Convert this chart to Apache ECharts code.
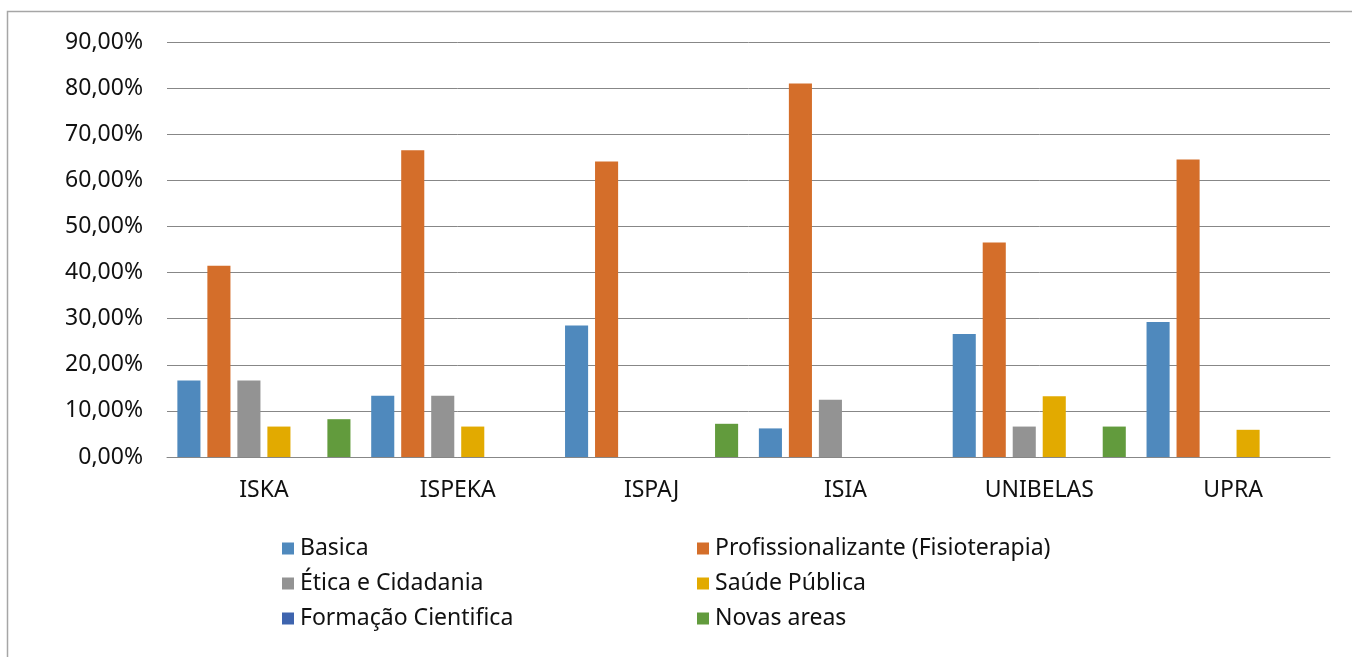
<!DOCTYPE html>
<html>
<head>
<meta charset="utf-8">
<script src="https://cdn.jsdelivr.net/npm/echarts@6/dist/echarts.min.js"></script>
<style>
html,body{margin:0;padding:0;background:#fff;}
#chart{width:1352px;height:657px;}
</style>
</head>
<body>
<div id="chart"></div>
<script>
const categories = ['ISKA', 'ISPEKA', 'ISPAJ', 'ISIA', 'UNIBELAS', 'UPRA'];
const seriesNames = ['Basica', 'Profissionalizante (Fisioterapia)', 'Ética e Cidadania', 'Saúde Pública', 'Formação Cientifica', 'Novas areas'];
const basica = [16.6, 13.3, 28.5, 6.2, 26.7, 29.3];
const profissionalizante = [41.5, 66.5, 64.1, 81.0, 46.5, 64.5];
const etica = [16.6, 13.3, 0, 12.4, 6.6, 0];
const saudePublica = [6.6, 6.6, 0, 0, 13.2, 5.9];
const formacaoCientifica = [0, 0, 0, 0, 0, 0];
const novasAreas = [8.2, 0, 7.2, 0, 6.6, 0];
const yTicks = [0, 10, 20, 30, 40, 50, 60, 70, 80, 90];

const seriesData = [basica, profissionalizante, etica, saudePublica, formacaoCientifica, novasAreas];
const colors = ['#4f89bd', '#d46e2a', '#939393', '#e2aa00', '#3e64ae', '#629b3d'];
const FONT = 'Noto Sans';
const FS = 23;

const chart = echarts.init(document.getElementById('chart'));
const legendCommon = {
  orient: 'vertical',
  itemWidth: 12,
  itemHeight: 12,
  itemGap: 12,
  padding: 0,
  icon: 'rect',
  textStyle: { fontFamily: FONT, fontSize: FS, color: '#111', padding: [0, 0, 0, 1] },
  selectedMode: false
};
chart.setOption({
  animation: false,
  color: colors,
  graphic: [{
    type: 'rect',
    shape: { x: 7.5, y: 11.5, width: 1500, height: 800 },
    style: { fill: 'none', stroke: '#a6a6a6', lineWidth: 1.5 },
    silent: true
  }],
  grid: { left: 167, right: 22, top: 42, bottom: 200, containLabel: false },
  legend: [
    Object.assign({}, legendCommon, { left: 282, top: 537, data: [seriesNames[0], seriesNames[2], seriesNames[4]] }),
    Object.assign({}, legendCommon, { left: 697, top: 537, data: [seriesNames[1], seriesNames[3], seriesNames[5]] })
  ],
  xAxis: {
    type: 'category',
    data: categories,
    axisLine: { lineStyle: { color: '#878787', width: 1 } },
    axisTick: { show: false },
    axisLabel: { fontFamily: FONT, fontSize: FS, color: '#111', margin: 22 }
  },
  yAxis: {
    type: 'value',
    min: yTicks[0],
    max: yTicks[yTicks.length - 1],
    interval: 10,
    axisLine: { show: false },
    axisTick: { show: false },
    splitLine: { lineStyle: { color: '#878787', width: 1 } },
    axisLabel: {
      fontFamily: FONT, fontSize: FS, color: '#111', margin: 24,
      formatter: v => v.toFixed(2).replace('.', ',') + '%'
    }
  },
  series: seriesNames.map((name, i) => ({
    name: name,
    type: 'bar',
    data: seriesData[i],
    barGap: '30%',
    barCategoryGap: '10.7%',
    itemStyle: { color: colors[i] }
  }))
});
</script>
</body>
</html>
